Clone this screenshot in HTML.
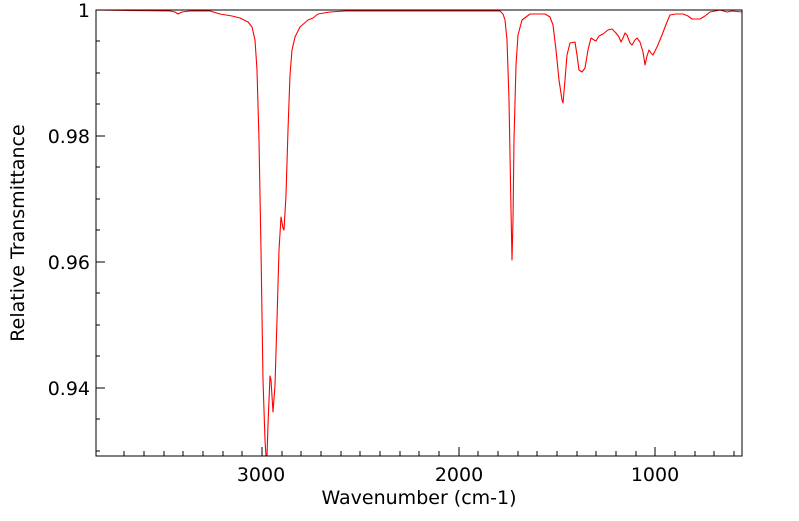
<!DOCTYPE html>
<html><head><style>body{margin:0;background:#fff}</style></head><body>
<svg width="799" height="516" xmlns="http://www.w3.org/2000/svg" font-family="DejaVu Sans, Liberation Sans, sans-serif" font-size="19">
<rect x="0" y="0" width="799" height="516" fill="#fff"/>
<g stroke="#000" stroke-width="1">
<line x1="262" y1="456" x2="262" y2="447"/><line x1="459" y1="456" x2="459" y2="447"/><line x1="655" y1="456" x2="655" y2="447"/>
<line x1="124" y1="456" x2="124" y2="451"/><line x1="144" y1="456" x2="144" y2="451"/><line x1="164" y1="456" x2="164" y2="451"/><line x1="183" y1="456" x2="183" y2="451"/><line x1="203" y1="456" x2="203" y2="451"/><line x1="223" y1="456" x2="223" y2="451"/><line x1="242" y1="456" x2="242" y2="451"/>
<line x1="282" y1="456" x2="282" y2="451"/><line x1="301" y1="456" x2="301" y2="451"/><line x1="321" y1="456" x2="321" y2="451"/><line x1="341" y1="456" x2="341" y2="451"/><line x1="360" y1="456" x2="360" y2="451"/><line x1="380" y1="456" x2="380" y2="451"/><line x1="400" y1="456" x2="400" y2="451"/><line x1="419" y1="456" x2="419" y2="451"/><line x1="439" y1="456" x2="439" y2="451"/>
<line x1="478" y1="456" x2="478" y2="451"/><line x1="498" y1="456" x2="498" y2="451"/><line x1="518" y1="456" x2="518" y2="451"/><line x1="537" y1="456" x2="537" y2="451"/><line x1="557" y1="456" x2="557" y2="451"/><line x1="577" y1="456" x2="577" y2="451"/><line x1="596" y1="456" x2="596" y2="451"/><line x1="616" y1="456" x2="616" y2="451"/><line x1="636" y1="456" x2="636" y2="451"/>
<line x1="675" y1="456" x2="675" y2="451"/><line x1="695" y1="456" x2="695" y2="451"/><line x1="714" y1="456" x2="714" y2="451"/><line x1="734" y1="456" x2="734" y2="451"/>
<line x1="96" y1="136" x2="105" y2="136"/><line x1="96" y1="262" x2="105" y2="262"/><line x1="96" y1="388" x2="105" y2="388"/>
<line x1="96" y1="41" x2="100" y2="41"/><line x1="96" y1="73" x2="100" y2="73"/><line x1="96" y1="104" x2="100" y2="104"/><line x1="96" y1="167" x2="100" y2="167"/><line x1="96" y1="199" x2="100" y2="199"/><line x1="96" y1="230" x2="100" y2="230"/><line x1="96" y1="293" x2="100" y2="293"/><line x1="96" y1="325" x2="100" y2="325"/><line x1="96" y1="356" x2="100" y2="356"/><line x1="96" y1="419" x2="100" y2="419"/><line x1="96" y1="451" x2="100" y2="451"/>
</g>
<polyline fill="none" stroke="#f00" stroke-width="1.1" stroke-linejoin="round" points="96,10 170,11 175,12 178,14 182,12 190,11 210,11 220,14 232,16 240,18 248,22 252,27 255,40 257,70 259,140 261,250 263,380 265,440 266,456 267,456 268,425 270,376 271,380 273,412 275,385 277,320 279,250 281,217 283,228 284,230 286,195 288,130 290,75 292,50 295,37 300,27 308,20 313,18 318,14 330,12 345,11 500,11 503,14 505,20 507,40 509,100 511,210 512,260 513,220 514,140 516,65 518,35 522,20 530,14 545,14 550,17 553,25 556,50 559,80 562,100 563,103 565,80 567,55 570,43 575,42 577,55 579,70 582,72 585,68 588,50 591,38 594,40 596,41 599,36 603,34 608,30 612,29 616,33 619,37 621,42 623,38 625,33 627,35 630,43 632,45 635,40 637,38 640,42 643,52 645,65 647,56 649,50 651,53 653,55 657,47 662,35 667,22 670,15 676,14 683,14 688,16 692,19 700,19 705,16 710,12 715,11 720,10 727,12 732,11 742,12"/>
<rect x="96" y="10" width="646" height="446" fill="none" stroke="#000" stroke-width="1"/>
<g text-anchor="end">
<text x="90" y="17">1</text><text x="90" y="143">0.98</text><text x="90" y="269">0.96</text><text x="90" y="395">0.94</text>
</g>
<g text-anchor="middle">
<text x="261" y="481">3000</text><text x="459" y="481">2000</text><text x="655" y="481">1000</text>
<text x="419" y="504">Wavenumber (cm-1)</text>
<text transform="translate(24,233) rotate(-90)">Relative Transmittance</text>
</g>
</svg>
</body></html>
